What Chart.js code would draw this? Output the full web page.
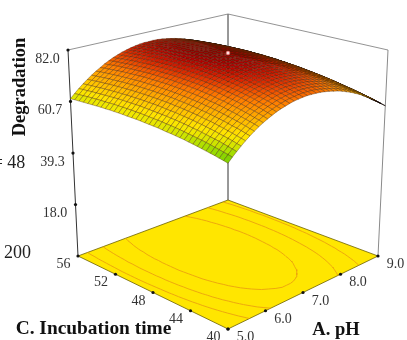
<!DOCTYPE html>
<html><head><meta charset="utf-8">
<style>html,body{margin:0;padding:0;background:#fff;overflow:hidden}canvas{display:block;filter:blur(0.3px)}</style>
<script src="https://cdn.jsdelivr.net/npm/chart.js@4"></script></head>
<body><canvas id="c" width="407" height="340"></canvas>
<script>
const phTicks=[5,6,7,8,9];
const timeTicks=[56,52,48,44,40];
const degTicks=[18,39.3,60.7,82];
const degLabels=["18.0","39.3","60.7","82.0"];
const contourLevels=[65.5,70.5,75.5];
const designPoint=[7,48,82];
// Degradation read from the surface: one row per incubation time (40 to 56), one column per pH (5 to 9)
const degradation=[
[57.9,59.6,61.1,62.6,64.0,65.3,66.5,67.6,68.6,69.5,70.3,71.1,71.7,72.2,72.7,73.1,73.3,73.5,73.6,73.5,73.4,73.2,72.9,72.5,72.0,71.5,70.8,70.0,69.2,68.2,67.2,66.0,64.8,63.5,62.0,60.5,58.9],
[58.3,60.0,61.5,63.0,64.4,65.7,66.9,68.1,69.1,70.0,70.8,71.6,72.2,72.8,73.2,73.6,73.8,74.0,74.1,74.1,74.0,73.8,73.4,73.0,72.5,72.0,71.3,70.5,69.6,68.7,67.6,66.5,65.2,63.9,62.5,60.9,59.3],
[58.6,60.3,61.9,63.5,64.8,66.2,67.4,68.5,69.5,70.5,71.3,72.1,72.7,73.3,73.7,74.1,74.3,74.5,74.6,74.6,74.5,74.3,73.9,73.5,73.0,72.5,71.8,71.0,70.1,69.1,68.1,66.9,65.7,64.3,62.9,61.3,59.7],
[59.0,60.7,62.3,63.8,65.2,66.6,67.8,68.9,70.0,70.9,71.8,72.5,73.2,73.7,74.2,74.6,74.8,75.0,75.1,75.0,74.9,74.7,74.4,74.0,73.5,72.9,72.2,71.5,70.6,69.6,68.5,67.3,66.1,64.7,63.2,61.7,60.0],
[59.3,61.0,62.7,64.2,65.6,66.9,68.2,69.3,70.4,71.3,72.2,72.9,73.6,74.2,74.6,75.0,75.3,75.5,75.5,75.5,75.4,75.2,74.9,74.5,74.0,73.4,72.7,71.9,71.0,70.0,68.9,67.7,66.5,65.1,63.6,62.1,60.4],
[59.6,61.4,63.0,64.5,66.0,67.3,68.6,69.7,70.8,71.7,72.6,73.4,74.0,74.6,75.1,75.4,75.7,75.9,76.0,76.0,75.8,75.6,75.3,74.9,74.4,73.8,73.1,72.3,71.4,70.4,69.3,68.1,66.8,65.5,64.0,62.4,60.7],
[59.9,61.7,63.3,64.9,66.3,67.7,68.9,70.1,71.2,72.1,73.0,73.8,74.4,75.0,75.5,75.8,76.1,76.3,76.4,76.4,76.2,76.0,75.7,75.3,74.8,74.2,73.5,72.7,71.8,70.8,69.7,68.5,67.2,65.8,64.3,62.7,61.1],
[60.2,62.0,63.6,65.2,66.7,68.0,69.3,70.4,71.5,72.5,73.4,74.1,74.8,75.4,75.8,76.2,76.5,76.7,76.8,76.7,76.6,76.4,76.1,75.7,75.2,74.6,73.9,73.1,72.2,71.1,70.1,68.8,67.5,66.1,64.6,63.0,61.4],
[60.5,62.2,63.9,65.5,67.0,68.3,69.6,70.8,71.8,72.8,73.7,74.5,75.2,75.7,76.2,76.6,76.9,77.1,77.1,77.1,77.0,76.8,76.5,76.1,75.5,74.9,74.2,73.4,72.5,71.5,70.4,69.2,67.9,66.5,65.0,63.3,61.6],
[60.7,62.5,64.2,65.8,67.2,68.6,69.9,71.1,72.2,73.1,74.0,74.8,75.5,76.1,76.5,76.9,77.2,77.4,77.5,77.5,77.4,77.1,76.8,76.4,75.9,75.3,74.6,73.7,72.8,71.8,70.7,69.5,68.2,66.8,65.2,63.6,61.9],
[61.0,62.7,64.4,66.0,67.5,68.9,70.2,71.4,72.4,73.4,74.3,75.1,75.8,76.4,76.9,77.2,77.5,77.7,77.8,77.8,77.7,77.5,77.1,76.7,76.2,75.6,74.9,74.0,73.1,72.1,71.0,69.8,68.4,67.0,65.5,63.9,62.2],
[61.2,63.0,64.7,66.3,67.8,69.1,70.4,71.6,72.7,73.7,74.6,75.4,76.1,76.7,77.1,77.5,77.8,78.0,78.1,78.1,78.0,77.8,77.4,77.0,76.5,75.9,75.2,74.3,73.4,72.4,71.3,70.0,68.7,67.3,65.8,64.1,62.4],
[61.4,63.2,64.9,66.5,68.0,69.4,70.7,71.9,73.0,74.0,74.9,75.6,76.3,76.9,77.4,77.8,78.1,78.3,78.4,78.3,78.2,78.0,77.7,77.3,76.8,76.1,75.4,74.6,73.7,72.6,71.5,70.3,69.0,67.5,66.0,64.4,62.6],
[61.6,63.4,65.1,66.7,68.2,69.6,70.9,72.1,73.2,74.2,75.1,75.9,76.6,77.2,77.7,78.1,78.3,78.5,78.6,78.6,78.5,78.3,78.0,77.5,77.0,76.4,75.7,74.8,73.9,72.9,71.8,70.5,69.2,67.8,66.2,64.6,62.9],
[61.7,63.6,65.3,66.9,68.4,69.8,71.1,72.3,73.4,74.4,75.3,76.1,76.8,77.4,77.9,78.3,78.6,78.7,78.8,78.8,78.7,78.5,78.2,77.7,77.2,76.6,75.9,75.1,74.1,73.1,72.0,70.7,69.4,68.0,66.4,64.8,63.1],
[61.9,63.7,65.4,67.1,68.6,70.0,71.3,72.5,73.6,74.6,75.5,76.3,77.0,77.6,78.1,78.5,78.8,79.0,79.0,79.0,78.9,78.7,78.4,78.0,77.4,76.8,76.1,75.3,74.3,73.3,72.2,70.9,69.6,68.2,66.6,65.0,63.2],
[62.1,63.9,65.6,67.2,68.7,70.1,71.4,72.6,73.7,74.8,75.7,76.5,77.2,77.8,78.2,78.6,78.9,79.1,79.2,79.2,79.1,78.9,78.6,78.1,77.6,77.0,76.3,75.4,74.5,73.5,72.3,71.1,69.8,68.3,66.8,65.2,63.4],
[62.2,64.0,65.7,67.3,68.9,70.3,71.6,72.8,73.9,74.9,75.8,76.6,77.3,77.9,78.4,78.8,79.1,79.3,79.4,79.4,79.2,79.0,78.7,78.3,77.8,77.1,76.4,75.6,74.7,73.6,72.5,71.3,69.9,68.5,67.0,65.3,63.6],
[62.3,64.1,65.8,67.5,69.0,70.4,71.7,72.9,74.0,75.0,75.9,76.7,77.4,78.0,78.5,78.9,79.2,79.4,79.5,79.5,79.4,79.2,78.8,78.4,77.9,77.3,76.6,75.7,74.8,73.8,72.6,71.4,70.1,68.6,67.1,65.4,63.7],
[62.4,64.2,65.9,67.6,69.1,70.5,71.8,73.0,74.1,75.1,76.0,76.8,77.5,78.2,78.6,79.0,79.3,79.5,79.6,79.6,79.5,79.3,79.0,78.5,78.0,77.4,76.7,75.8,74.9,73.9,72.8,71.5,70.2,68.7,67.2,65.6,63.8],
[62.5,64.3,66.0,67.7,69.2,70.6,71.9,73.1,74.2,75.2,76.1,76.9,77.6,78.2,78.7,79.1,79.4,79.6,79.7,79.7,79.6,79.4,79.0,78.6,78.1,77.5,76.8,75.9,75.0,74.0,72.9,71.6,70.3,68.8,67.3,65.7,63.9],
[62.6,64.4,66.1,67.7,69.2,70.6,71.9,73.2,74.3,75.3,76.2,77.0,77.7,78.3,78.8,79.2,79.5,79.7,79.8,79.7,79.6,79.4,79.1,78.7,78.2,77.5,76.8,76.0,75.1,74.1,72.9,71.7,70.4,68.9,67.4,65.8,64.0],
[62.6,64.4,66.2,67.8,69.3,70.7,72.0,73.2,74.3,75.3,76.2,77.0,77.7,78.3,78.8,79.2,79.5,79.7,79.8,79.8,79.7,79.5,79.1,78.7,78.2,77.6,76.9,76.1,75.1,74.1,73.0,71.8,70.4,69.0,67.5,65.8,64.1],
[62.6,64.5,66.2,67.8,69.3,70.7,72.0,73.2,74.3,75.3,76.2,77.0,77.7,78.3,78.8,79.2,79.5,79.7,79.8,79.8,79.7,79.5,79.2,78.7,78.2,77.6,76.9,76.1,75.2,74.1,73.0,71.8,70.5,69.0,67.5,65.9,64.2],
[62.7,64.5,66.2,67.8,69.3,70.7,72.0,73.2,74.3,75.3,76.2,77.0,77.7,78.3,78.8,79.2,79.5,79.7,79.8,79.8,79.7,79.5,79.2,78.8,78.2,77.6,76.9,76.1,75.2,74.2,73.1,71.8,70.5,69.1,67.6,65.9,64.2],
[62.7,64.5,66.2,67.8,69.3,70.7,72.0,73.2,74.3,75.3,76.2,77.0,77.7,78.3,78.8,79.2,79.5,79.7,79.8,79.8,79.7,79.5,79.1,78.7,78.2,77.6,76.9,76.1,75.2,74.2,73.0,71.8,70.5,69.1,67.6,66.0,64.2],
[62.7,64.5,66.2,67.8,69.3,70.7,72.0,73.2,74.3,75.2,76.1,76.9,77.6,78.2,78.7,79.1,79.4,79.6,79.7,79.7,79.6,79.4,79.1,78.7,78.2,77.5,76.8,76.0,75.1,74.1,73.0,71.8,70.5,69.1,67.6,66.0,64.3],
[62.7,64.5,66.2,67.7,69.2,70.6,71.9,73.1,74.2,75.2,76.1,76.9,77.6,78.2,78.7,79.1,79.3,79.5,79.6,79.6,79.5,79.3,79.0,78.6,78.1,77.5,76.8,76.0,75.1,74.1,73.0,71.8,70.5,69.1,67.6,66.0,64.3],
[62.6,64.4,66.1,67.7,69.2,70.5,71.8,73.0,74.1,75.1,76.0,76.8,77.5,78.1,78.5,78.9,79.2,79.4,79.5,79.5,79.4,79.2,78.9,78.5,78.0,77.4,76.7,75.9,75.0,74.0,72.9,71.7,70.4,69.0,67.5,65.9,64.2],
[62.6,64.3,66.0,67.6,69.1,70.5,71.7,72.9,74.0,75.0,75.9,76.7,77.4,78.0,78.4,78.8,79.1,79.3,79.4,79.4,79.3,79.1,78.8,78.4,77.9,77.3,76.6,75.8,74.9,73.9,72.8,71.7,70.4,69.0,67.5,65.9,64.2],
[62.5,64.3,65.9,67.5,69.0,70.3,71.6,72.8,73.9,74.8,75.7,76.5,77.2,77.8,78.3,78.7,79.0,79.1,79.2,79.2,79.1,79.0,78.6,78.3,77.7,77.2,76.5,75.7,74.8,73.8,72.7,71.6,70.3,68.9,67.4,65.9,64.2],
[62.4,64.2,65.8,67.4,68.9,70.2,71.5,72.7,73.7,74.7,75.6,76.4,77.0,77.6,78.1,78.5,78.8,79.0,79.1,79.1,79.0,78.8,78.5,78.1,77.6,77.0,76.3,75.5,74.7,73.7,72.6,71.4,70.2,68.8,67.3,65.8,64.1],
[62.3,64.1,65.7,67.3,68.7,70.1,71.3,72.5,73.6,74.5,75.4,76.2,76.8,77.4,77.9,78.3,78.6,78.8,78.9,78.9,78.8,78.6,78.3,77.9,77.4,76.8,76.2,75.4,74.5,73.5,72.5,71.3,70.0,68.7,67.2,65.7,64.0],
[62.2,64.0,65.6,67.1,68.6,69.9,71.2,72.3,73.4,74.3,75.2,76.0,76.6,77.2,77.7,78.1,78.4,78.6,78.6,78.6,78.6,78.4,78.1,77.7,77.2,76.6,76.0,75.2,74.3,73.4,72.3,71.2,69.9,68.6,67.1,65.6,64.0],
[62.1,63.8,65.4,67.0,68.4,69.7,71.0,72.1,73.2,74.1,75.0,75.7,76.4,77.0,77.5,77.8,78.1,78.3,78.4,78.4,78.3,78.1,77.9,77.5,77.0,76.4,75.8,75.0,74.1,73.2,72.1,71.0,69.8,68.4,67.0,65.5,63.9],
[62.0,63.7,65.3,66.8,68.2,69.5,70.8,71.9,72.9,73.9,74.7,75.5,76.2,76.7,77.2,77.6,77.9,78.0,78.1,78.1,78.0,77.9,77.6,77.2,76.7,76.2,75.5,74.8,73.9,73.0,71.9,70.8,69.6,68.3,66.8,65.3,63.7],
[61.8,63.5,65.1,66.6,68.0,69.3,70.5,71.6,72.7,73.6,74.5,75.2,75.9,76.4,76.9,77.3,77.6,77.8,77.8,77.9,77.8,77.6,77.3,76.9,76.5,75.9,75.3,74.5,73.7,72.7,71.7,70.6,69.4,68.1,66.7,65.2,63.6]
];
const N=degradation.length;
const zMin=-3.3,zMax=82;
const floorQ={F:[228,329],R:[378,256],B:[228,200],L:[78,256]};
const topQ={F:[228,98],R:[388,50],B:[228,14],L:[68,50]};
function bil(Q,u,v,k){return (1-u)*(1-v)*Q.F[k]+u*(1-v)*Q.R[k]+u*v*Q.B[k]+(1-u)*v*Q.L[k];}
function proj(ph,t,z){const u=(ph-5)/4,v=(t-40)/16,w=(z-zMin)/(zMax-zMin);
 return {x:bil(floorQ,u,v,0)*(1-w)+bil(topQ,u,v,0)*w,y:bil(floorQ,u,v,1)*(1-w)+bil(topQ,u,v,1)*w};}
const phAt=i=>5+4*i/(N-1), tAt=j=>40+16*j/(N-1);
const stops=[[56,[90,190,0]],[58,[112,200,0]],[60,[152,220,0]],[62,[204,228,0]],[63.5,[240,232,0]],[65,[255,228,0]],[68,[255,192,0]],[70.5,[255,160,0]],[73,[255,124,0]],[75,[240,80,0]],[77,[216,32,0]],[79,[176,0,0]],[80,[144,0,0]]];
function color(z){for(let s=1;s<stops.length;s++){if(z<=stops[s][0]){const a=stops[s-1],b=stops[s],f=Math.max(0,(z-a[0])/(b[0]-a[0]));return `rgb(${a[1].map((c,i)=>Math.round(c+(b[1][i]-c)*f)).join(',')})`;}}return 'rgb(125,0,0)';}
const paint=[];
function line(pts,col,w){paint.push({data:pts,showLine:true,borderColor:col,borderWidth:w,pointRadius:0,fill:false});}
function dots(pts,col,r){paint.push({data:pts,showLine:false,backgroundColor:col,borderColor:col,borderWidth:0,pointRadius:r,fill:false});}
line([proj(5,56,zMax),proj(5,56,zMin)],'#333',1);
line([proj(9,56,zMax),proj(9,56,zMin)],'#8a8a8a',1);
line([proj(9,40,zMax),proj(9,40,zMin)],'#8a8a8a',1);
line([proj(5,56,zMax),proj(9,56,zMax)],'#777',.8);
line([proj(9,56,zMax),proj(9,40,zMax)],'#777',.8);
paint.push({data:[proj(5,40,zMin),proj(9,40,zMin),proj(9,56,zMin),proj(5,56,zMin),proj(5,40,zMin)],showLine:true,borderColor:'#6b6000',borderWidth:.8,backgroundColor:'#FFE600',fill:'shape',pointRadius:0});
function seg(level){const out=[];const it=(a,b,pa,pb)=>{const f=(level-a)/(b-a);return [pa[0]+(pb[0]-pa[0])*f,pa[1]+(pb[1]-pa[1])*f];};
 for(let j=0;j<N-1;j++)for(let i=0;i<N-1;i++){const c=[[i,j],[i+1,j],[i+1,j+1],[i,j+1]];const vals=c.map(q=>degradation[q[1]][q[0]]);const pts=[];
  for(let e=0;e<4;e++){const a=vals[e],b=vals[(e+1)%4];if((a<level)!==(b<level)){pts.push(it(a,b,[phAt(c[e][0]),tAt(c[e][1])],[phAt(c[(e+1)%4][0]),tAt(c[(e+1)%4][1])]));}}
  if(pts.length>=2){out.push(proj(pts[0][0],pts[0][1],zMin),proj(pts[1][0],pts[1][1],zMin),{x:NaN,y:NaN});}}
 return out;}
contourLevels.forEach(l=>line(seg(l),'#EBA010',.9));
dots(degTicks.map(z=>proj(5,56,z)),'#111',1.6);
dots(timeTicks.map(t=>proj(5,t,zMin)),'#111',1.6);
dots(phTicks.map(p=>proj(p,40,zMin)),'#111',1.6);
for(let j=N-2;j>=0;j--)for(let i=N-2;i>=0;i--){
 const z=[degradation[j][i],degradation[j][i+1],degradation[j+1][i+1],degradation[j+1][i]];
 const p0=proj(phAt(i),tAt(j),z[0]),p1=proj(phAt(i+1),tAt(j),z[1]),p2=proj(phAt(i+1),tAt(j+1),z[2]),p3=proj(phAt(i),tAt(j+1),z[3]);
 const area=(p2.x-p0.x)*(p3.y-p1.y)-(p3.x-p1.x)*(p2.y-p0.y);
 const back=area>0;
 paint.push({data:[p0,p1,p2,p3,p0],showLine:true,borderColor:back?'#100500':'rgba(70,35,0,0.6)',borderWidth:.6,backgroundColor:back?'#100500':color((z[0]+z[1]+z[2]+z[3])/4),fill:'shape',pointRadius:0});
}
paint.push({data:[proj(designPoint[0],designPoint[1],designPoint[2])],showLine:false,backgroundColor:'#ffe0e0',borderColor:'#e05050',borderWidth:.6,pointRadius:1.9,fill:false});
paint.forEach((d,i)=>{d.order=paint.length-i;d.spanGaps=false;d.tension=0;});
const serif='"Liberation Serif","Times New Roman",serif';
const texts=[];
degTicks.forEach((z,i)=>{const p=proj(5,56,z);texts.push([degLabels[i],p.x-20.5,p.y+9,`14px ${serif}`,'#333',0]);});
timeTicks.forEach(t=>{const p=proj(5,t,zMin);texts.push([String(t),p.x-14.5,p.y+8.5,`14px ${serif}`,'#333',0]);});
phTicks.forEach(ph=>{const p=proj(ph,40,zMin);texts.push([ph.toFixed(1),p.x+17.5,p.y+8.5,`14px ${serif}`,'#333',0]);});
texts.push(["Degradation",20,87,`bold 18.5px ${serif}`,'#111',-Math.PI/2]);
texts.push(["C. Incubation time",93.5,329,`bold 19.4px ${serif}`,'#111',0]);
texts.push(["A. pH",336,330,`bold 18.5px ${serif}`,'#111',0]);
texts.push(["= 48",9,163,`18px ${serif}`,'#222',0]);
texts.push(["200",17.5,253,`18px ${serif}`,'#222',0]);
const textPlugin={id:'txt',afterDatasetsDraw(ch){const g=ch.ctx;g.save();g.textAlign='center';g.textBaseline='middle';
 texts.forEach(t=>{g.save();g.translate(t[1],t[2]);g.rotate(t[5]);g.font=t[3];g.fillStyle=t[4];g.fillText(t[0],0,0);g.restore();});g.restore();}};
new Chart(document.getElementById('c'),{type:'scatter',data:{datasets:paint},plugins:[textPlugin],options:{responsive:false,animation:false,events:[],layout:{padding:0,autoPadding:false},
 plugins:{legend:{display:false},tooltip:{enabled:false},filler:{drawTime:'beforeDatasetDraw',propagate:false}},
 scales:{x:{type:'linear',min:0,max:407,display:false},y:{type:'linear',min:0,max:340,reverse:true,display:false}}}});
</script></body></html>
